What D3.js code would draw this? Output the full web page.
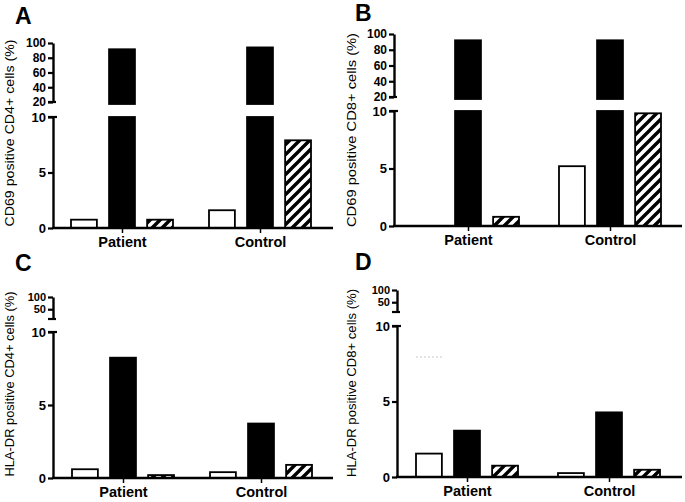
<!DOCTYPE html>
<html>
<head>
<meta charset="utf-8">
<script src="https://cdn.jsdelivr.net/npm/d3@7"></script>
<style>
  body { margin: 0; background: #fff; }
  svg { display: block; }
  text { font-family: "Liberation Sans", Arial, sans-serif; fill: #000; }
</style>
</head>
<body>
<svg id="chart" width="685" height="502"></svg>
<script>
// data
const groups = ["Patient", "Control"];
const seriesKeys = ["open", "solid", "hatched"];

const cd69CD4 = [[0.75, 91.5, 0.75], [1.6, 94, 7.9]];
const cd69CD8 = [[0, 92, 0.8], [5.2, 92, 9.8]];
const hladrCD4 = [[0.6, 8.24, 0.2], [0.4, 3.73, 0.9]];
const hladrCD8 = [[1.55, 3.07, 0.75], [0.26, 4.28, 0.48]];

const lowerTicks = [0, 5, 10];
const upperTicksCD69 = [20, 40, 60, 80, 100];
const upperTicksHLA = [50, 100];

const panelLetters = ["A", "B", "C", "D"];
const yTitles = [
  "CD69 positive CD4+ cells (%)",
  "CD69 positive CD8+ cells (%)",
  "HLA-DR positive CD4+ cells (%)",
  "HLA-DR positive CD8+ cells (%)"
];

// layout of each panel
const panels = [
  {values: cd69CD4, upTicks: upperTicksCD69, upDomain: [20, 100], upFont: 12,
   axisX: 53, xEnd: 333, xRange: [53, 329], baseY: 228, lowTop: 117, upTop: 43, upBottom: 102,
   letter: [15, 24], title: [9, 133, 187]},
  {values: cd69CD8, upTicks: upperTicksCD69, upDomain: [20, 100], upFont: 12,
   axisX: 394, xEnd: 682, xRange: [397, 681], baseY: 226, lowTop: 111, upTop: 34, upBottom: 97,
   letter: [355, 21], title: [351, 130, 194]},
  {values: hladrCD4, upTicks: upperTicksHLA, upDomain: [10, 100], upFont: 11,
   axisX: 53, xEnd: 333, xRange: [54, 330], baseY: 478, lowTop: 332, upTop: 297, upBottom: 319,
   letter: [15, 271], title: [9, 384, 185]},
  {values: hladrCD8, upTicks: upperTicksHLA, upDomain: [10, 100], upFont: 11,
   axisX: 397, xEnd: 682, xRange: [396, 680], baseY: 477, lowTop: 326, upTop: 290, upBottom: 312,
   letter: [355, 270], title: [351, 383, 188]}
];

const svg = d3.select("#chart");

// diagonal hatch
const defs = svg.append("defs");
const pat = defs.append("pattern")
  .attr("id", "hatch")
  .attr("patternUnits", "userSpaceOnUse")
  .attr("width", 10).attr("height", 10);
pat.append("rect").attr("width", 10).attr("height", 10).attr("fill", "#fff");
pat.append("path")
  .attr("d", "M-2,2 l4,-4 M0,10 l10,-10 M8,12 l4,-4")
  .attr("stroke", "#000").attr("stroke-width", 3.4);

const fills = {open: "#fff", solid: "#000", hatched: "url(#hatch)"};

panels.forEach(function(p, i) {
  const g = svg.append("g");

  const yLow = d3.scaleLinear().domain([0, 10]).range([p.baseY, p.lowTop]);
  const yUp = d3.scaleLinear().domain(p.upDomain).range([p.upBottom, p.upTop]);
  const xGroup = d3.scalePoint().domain(groups).range(p.xRange).padding(0.5);
  const xSeries = d3.scaleBand().domain(seriesKeys).range([-51, 51]).paddingInner(0.32);

  // bars
  const rows = [];
  p.values.forEach(function(vals, gi) {
    vals.forEach(function(v, si) {
      rows.push({group: groups[gi], key: seriesKeys[si], value: v});
    });
  });

  g.selectAll("rect.low").data(rows).enter()
    .append("rect")
    .attr("class", "low")
    .attr("x", d => xGroup(d.group) + xSeries(d.key))
    .attr("width", xSeries.bandwidth())
    .attr("y", d => yLow(Math.min(d.value, 10)))
    .attr("height", d => yLow(0) - yLow(Math.min(d.value, 10)))
    .attr("fill", d => fills[d.key])
    .attr("stroke", "#000")
    .attr("stroke-width", 1.8);

  g.selectAll("rect.up").data(rows.filter(d => d.value > p.upDomain[0])).enter()
    .append("rect")
    .attr("class", "up")
    .attr("x", d => xGroup(d.group) + xSeries(d.key))
    .attr("width", xSeries.bandwidth())
    .attr("y", d => yUp(d.value))
    .attr("height", d => yUp(p.upDomain[0]) - yUp(d.value) + 2)
    .attr("fill", d => fills[d.key])
    .attr("stroke", "#000")
    .attr("stroke-width", 1.8);

  // y axes, lower and upper segments
  const lowAxis = g.append("g")
    .attr("transform", "translate(" + p.axisX + ",0)")
    .call(d3.axisLeft(yLow).tickValues(lowerTicks).tickSize(5).tickSizeOuter(0).tickPadding(2));
  const upAxis = g.append("g")
    .attr("transform", "translate(" + p.axisX + ",0)")
    .call(d3.axisLeft(yUp).tickValues(p.upTicks).tickSize(5).tickSizeOuter(0).tickPadding(2));

  [lowAxis, upAxis].forEach(function(ax) {
    ax.attr("font-family", null).attr("font-size", null);
    ax.select(".domain").attr("stroke", "#000").attr("stroke-width", 2.4);
    ax.selectAll(".tick line").attr("stroke", "#000").attr("stroke-width", 2.2);
    ax.selectAll("text")
      .style("font-weight", "bold")
      .style("font-size", "13px");
  });
  upAxis.selectAll("text").style("font-size", p.upFont + "px");

  // break caps
  g.append("line")
    .attr("x1", p.axisX - 5).attr("x2", p.axisX + 4)
    .attr("y1", yLow(10)).attr("y2", yLow(10))
    .attr("stroke", "#000").attr("stroke-width", 2.2);
  g.append("line")
    .attr("x1", p.axisX - 5).attr("x2", p.axisX + 3)
    .attr("y1", yUp(p.upDomain[0])).attr("y2", yUp(p.upDomain[0]))
    .attr("stroke", "#000").attr("stroke-width", 2.2);

  // x axis
  g.append("line")
    .attr("x1", p.axisX - 1).attr("x2", p.xEnd)
    .attr("y1", p.baseY).attr("y2", p.baseY)
    .attr("stroke", "#000").attr("stroke-width", 2.4);
  const xAxis = g.append("g")
    .attr("transform", "translate(0," + p.baseY + ")")
    .call(d3.axisBottom(xGroup).tickSize(5).tickSizeOuter(0).tickPadding(4));
  xAxis.attr("font-family", null).attr("font-size", null);
  xAxis.select(".domain").remove();
  xAxis.selectAll(".tick line").attr("stroke", "#000").attr("stroke-width", 1.5);
  xAxis.selectAll("text")
    .style("font-weight", "bold")
    .style("font-size", "14.5px");

  // y title
  g.append("text")
    .attr("transform", "translate(" + p.title[0] + "," + p.title[1] + ") rotate(-90)")
    .attr("text-anchor", "middle")
    .attr("dominant-baseline", "central")
    .attr("textLength", p.title[2])
    .attr("lengthAdjust", "spacingAndGlyphs")
    .style("font-size", "13px")
    .text(yTitles[i]);

  // panel letter
  g.append("text")
    .attr("x", p.letter[0]).attr("y", p.letter[1])
    .style("font-size", "23px")
    .style("font-weight", "bold")
    .text(panelLetters[i]);
});

// faint stray dashes in panel D
svg.append("line")
  .attr("x1", 416).attr("x2", 442).attr("y1", 357).attr("y2", 357)
  .attr("stroke", "#c8c8c8").attr("stroke-width", 1)
  .attr("stroke-dasharray", "2,2");
</script>
</body>
</html>
